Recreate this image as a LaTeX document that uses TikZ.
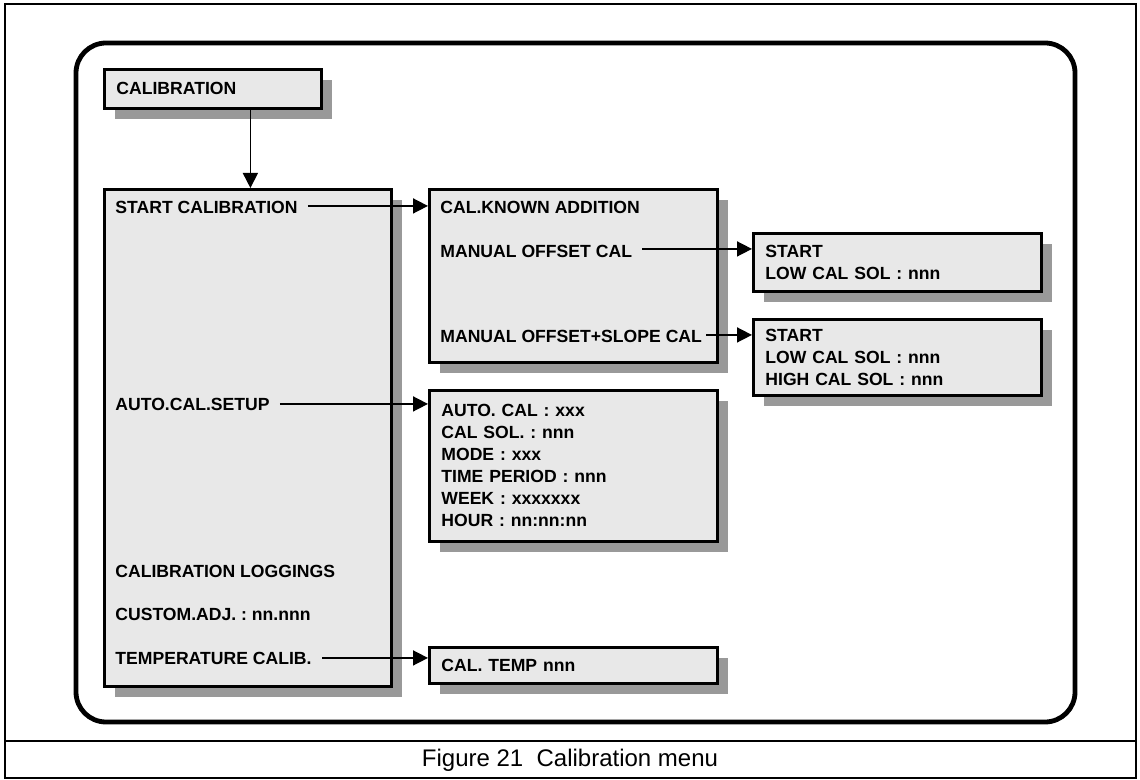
\documentclass[tikz,border=0pt]{standalone}
\usepackage{fontspec}
\setmainfont{Liberation Sans}
\usetikzlibrary{arrows.meta,shadows}
\definecolor{BoxFill}{RGB}{232,232,232}
\definecolor{BoxShade}{RGB}{153,153,153}
\frenchspacing

\begin{document}
\begin{tikzpicture}[
        x=0.5pt, y=-0.5pt,
        menubox/.style={
            draw=black,
            fill=BoxFill,
            line width=1.4pt,
            inner xsep=6pt,
            inner ysep=0pt,
            align=left,
            anchor=north west,
            font=\bfseries\fontsize{8.8}{11}\selectfont,
            drop shadow={shadow xshift=5.5pt, shadow yshift=-5.5pt, fill=BoxShade, opacity=1}
        },
        item/.style={
            inner sep=0pt,
            anchor=base west,
            font=\bfseries\fontsize{8.8}{11}\selectfont
        },
        link/.style={
            -{Triangle[length=7.5pt,width=7.5pt]},
            line width=0.8pt,
            shorten <=5pt
        }
    ]
        \useasboundingbox (0,0) rectangle (1140,780);

        % frame and caption
        \draw[line width=1pt] (5,4) rectangle (1136,778);
        \draw[line width=1pt] (5,741) -- (1136,741);
        \node[font=\fontsize{12}{14}\selectfont] (caption) at (570,760) {Figure 21\ \ Calibration menu};
        \draw[line width=2.4pt, rounded corners=15pt] (76,43) rectangle (1075,722);

        % boxes
        \node[menubox, text width=96.5pt, minimum height=19.5pt] (calib) at (103,68) {CALIBRATION};
        \node[menubox, minimum width=143.5pt, minimum height=248.5pt] (mainbox) at (103,188) {};
        \node[menubox, minimum width=144pt, minimum height=86.5pt] (knownbox) at (428,188) {};
        \node[menubox, text width=132pt, minimum height=75.5pt] (autobox) at (428,389)
            {AUTO. CAL : xxx\\CAL SOL. : nnn\\MODE : xxx\\TIME PERIOD : nnn\\WEEK : xxxxxxx\\HOUR : nn:nn:nn};
        \node[menubox, text width=132pt, minimum height=18pt] (tempbox) at (428,646) {CAL. TEMP nnn};
        \node[menubox, text width=132pt, minimum height=29pt] (offbox) at (752,232)
            {START\\LOW CAL SOL : nnn};
        \node[menubox, text width=132pt, minimum height=38pt] (slopebox) at (752,318)
            {START\\LOW CAL SOL : nnn\\HIGH CAL SOL : nnn};

        % menu entries
        \node[item] (startcal) at (115,214) {START CALIBRATION};
        \node[item] (autosetup) at (115,410) {AUTO.CAL.SETUP};
        \node[item] (loggings) at (115,577) {CALIBRATION LOGGINGS};
        \node[item] (customadj) at (115,620) {CUSTOM.ADJ. : nn.nnn};
        \node[item] (tempcal) at (115,664) {TEMPERATURE CALIB.};
        \node[item] (known) at (440,214) {CAL.KNOWN ADDITION};
        \node[item] (manoff) at (440,258) {MANUAL OFFSET CAL};
        \node[item] (manslope) at (440,343) {MANUAL OFFSET+SLOPE CAL};

        % arrows
        \draw[link, shorten <=0pt] ([xshift=18.75pt]calib.south) -- ([xshift=18.75pt]calib.south |- mainbox.north);
        \draw[link] ([yshift=1pt]startcal.east) -- ([yshift=1pt]startcal.east -| knownbox.west);
        \draw[link] ([yshift=1.5pt]manoff.east) -- ([yshift=1.5pt]manoff.east -| offbox.west);
        \draw[link, shorten <=2pt] ([yshift=1pt]manslope.east) -- ([yshift=1pt]manslope.east -| slopebox.west);
        \draw[link] (autosetup.east) -- (autosetup.east -| autobox.west);
        \draw[link] (tempcal.east) -- (tempcal.east -| tempbox.west);
    \end{tikzpicture}
\end{document}
